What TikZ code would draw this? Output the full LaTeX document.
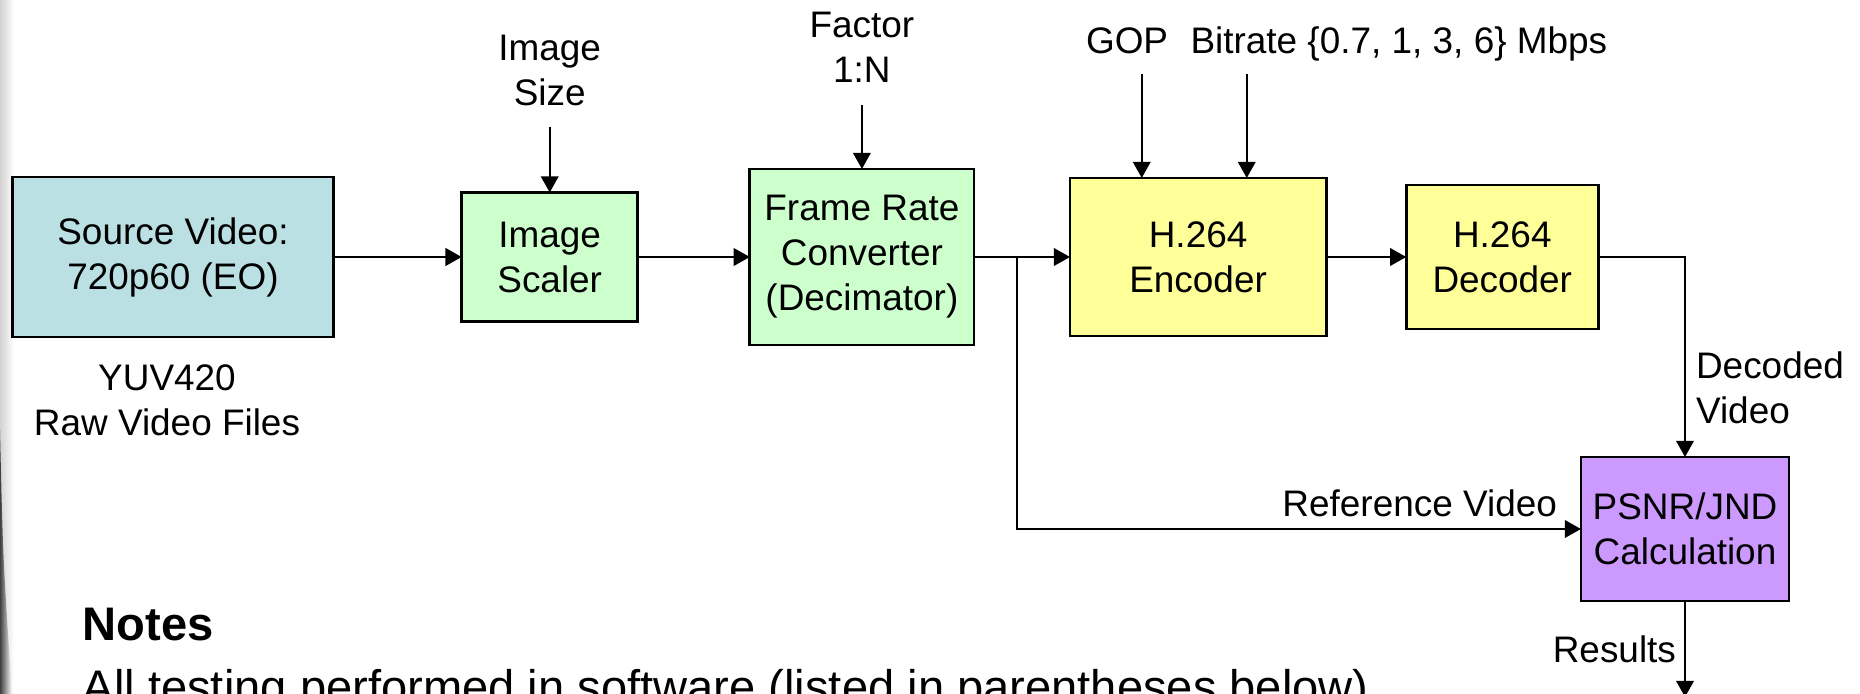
\documentclass[tikz,border=0pt]{standalone}
\usepackage{fontspec}
\setmainfont{Liberation Sans}
\usetikzlibrary{positioning,calc,arrows.meta}
\definecolor{srcblue}{HTML}{BBE0E3}
\definecolor{convgreen}{HTML}{CCFFCC}
\definecolor{codecyellow}{HTML}{FFFF99}
\definecolor{metricpurple}{HTML}{CC99FF}
\tikzset{
    block/.style = {
        draw,
        line width=0.8pt,
        align=center,
        inner sep=0pt,
        outer sep=0pt,
        },
    source block/.style = {
        block,
        fill = srcblue,
        },
    conv block/.style = {
        block,
        fill = convgreen,
        },
    codec block/.style = {
        block,
        fill = codecyellow,
        },
    metric block/.style = {
        block,
        fill = metricpurple,
        },
    input/.style = {
        align=center,
        inner sep=0pt,
        text depth=0pt,
        },
    tag/.style = {
        align=left,
        inner sep=0pt,
        },
    note/.style = {
        anchor=base west,
        inner sep=0pt,
        font=\fontsize{13.4}{16}\selectfont,
        },
    flow/.style = {
        -{Triangle[length=4.6pt, width=5pt]},
        line width=0.6pt,
        },
}

\begin{document}
\begin{tikzpicture}[x=0.01cm, y=-0.01cm, font=\fontsize{10.5}{12.8}\selectfont]
            \useasboundingbox (0,0) rectangle (1860,694);

            % slide edge
            \shade[left color=gray!35, right color=white] (0,0) rectangle (14,694);
            \shade[left color=black!75, right color=white] (0,694) -- (0,430) .. controls (3,560) .. (12,694) -- cycle;

            % processing chain
            \node[source block, minimum width=3.21cm, minimum height=1.60cm] (src) at (173,257) {Source Video:\\720p60 (EO)};
            \node[conv block, minimum width=1.76cm, minimum height=1.29cm, right=1.28cm of src] (scaler) {Image\\Scaler};
            \node[conv block, minimum width=2.24cm, minimum height=1.76cm, right=1.12cm of scaler] (frc) {Frame Rate\\Converter\\(Decimator)};
            \node[codec block, minimum width=2.56cm, minimum height=1.58cm, right=0.96cm of frc] (enc) {H.264\\Encoder};
            \node[codec block, minimum width=1.92cm, minimum height=1.44cm, right=0.80cm of enc] (dec) {H.264\\Decoder};
            \node[metric block, minimum width=2.08cm, minimum height=1.44cm] (psnr) at (1685,529) {PSNR/JND\\Calculation};

            % parameters
            \node[input, below=0.27cm of src, xshift=-0.06cm] (yuv) {YUV420\\Raw Video Files};
            \node[input, above=0.86cm of scaler] (isize) {Image\\Size};
            \node[input, above=0.86cm of frc] (fac) {Factor\\1:N};
            \node[input, above=1.24cm of enc, xshift=-0.71cm] (gop) {GOP};
            \node[input, base right=0.21cm of gop] (rate) {Bitrate \{0.7, 1, 3, 6\} Mbps};

            \coordinate (tap) at ($(frc.east)!0.45!(enc.west)$);
            \coordinate (gop in) at ($(enc.north west)!0.28!(enc.north east)$);
            \coordinate (rate in) at ($(enc.north west)!0.69!(enc.north east)$);
            \coordinate (out) at (1685,697);

            \path (src) edge[flow] (scaler);
            \path (scaler) edge[flow] (frc);
            \path (frc) edge[flow] (enc);
            \path (enc) edge[flow] (dec);

            \path (isize) edge[flow, shorten <=0.21cm] (scaler);
            \path (fac) edge[flow, shorten <=0.22cm] (frc);
            \draw[flow, shorten <=0.2cm] (gop.south -| gop in) -- (gop in);
            \draw[flow, shorten <=0.2cm] (rate.south -| rate in) -- (rate in);

            % comparison
            \draw[flow] (dec) -| node[tag, pos=0.826, right=0.1cm] {Decoded\\Video} (psnr);
            \draw[flow] (tap) |- node[tag, pos=1, anchor=south east, xshift=-0.23cm, yshift=0.11cm] {Reference Video} (psnr);
            \draw[flow] (psnr) -- node[tag, midway, left=0.08cm] {Results} (out);

            % notes
            \node[note, font=\bfseries\fontsize{13.4}{16}\selectfont] (notes) at (82,640) {Notes};
            \node[note] (testing) at (82,703) {All testing performed in software (listed in parentheses below)};
        \end{tikzpicture}
\end{document}
